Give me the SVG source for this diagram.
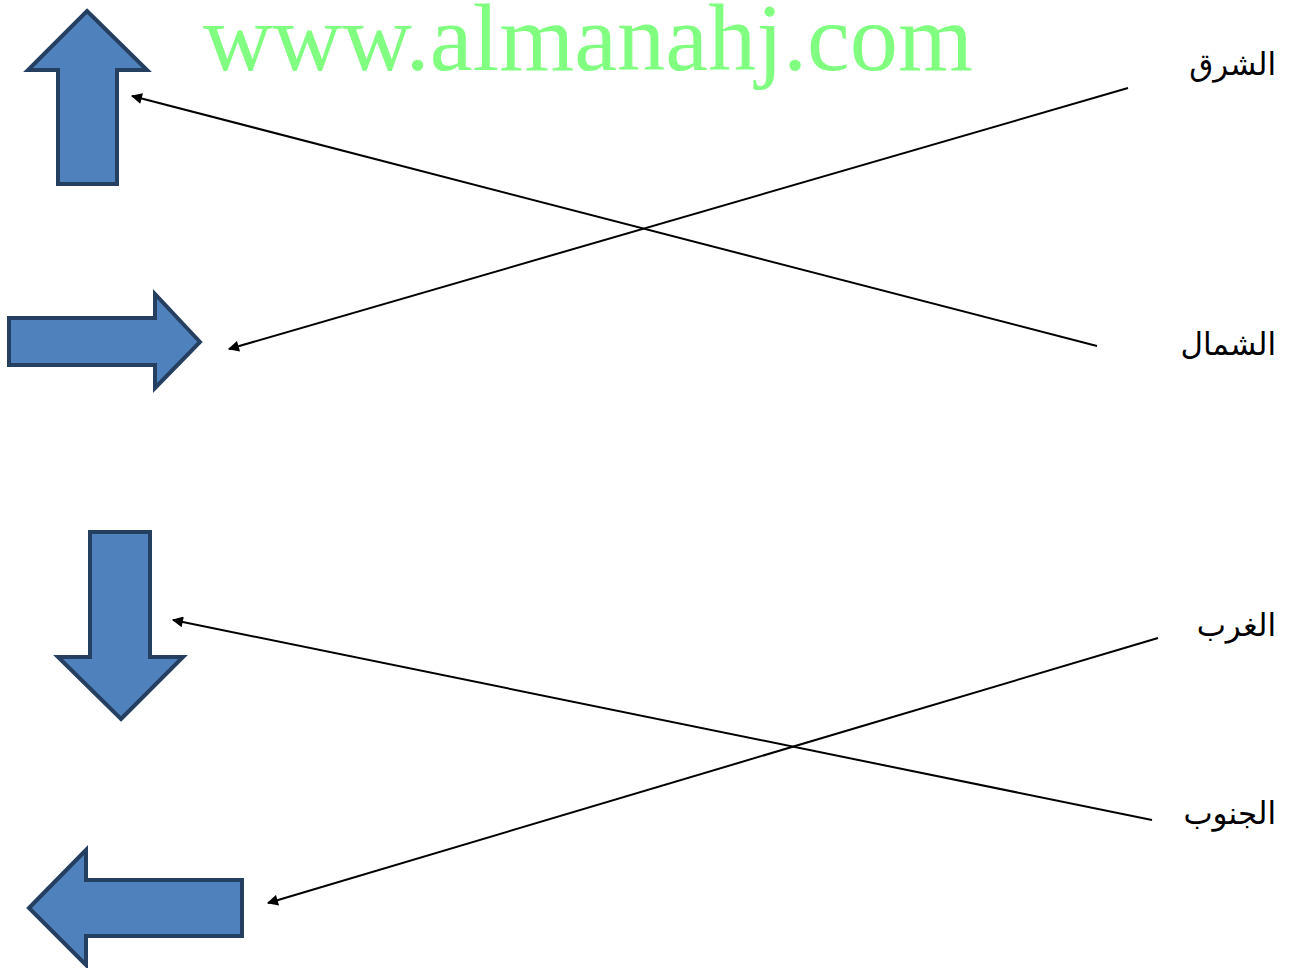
<svg xmlns="http://www.w3.org/2000/svg" width="1305" height="968" viewBox="0 0 1305 968">
<defs>
<style>
.shape{fill:#4f81bd;stroke:#243f60;stroke-width:4;stroke-linejoin:miter}
.conn{stroke:#000;stroke-width:2;fill:none;marker-end:url(#ah)}
.lbl{font-family:"DejaVu Sans","Noto Sans",sans-serif;font-size:31px;fill:#000;text-anchor:end}
.wm{font-family:"Liberation Serif",serif;font-size:96px;fill:#80ff80}
</style>
<marker id="ah" viewBox="0 0 10 10" refX="9" refY="5" markerWidth="13" markerHeight="11" markerUnits="userSpaceOnUse" orient="auto">
<path d="M0,0 L10,5 L0,10 z" fill="#000"/>
</marker>
</defs>
<rect width="1305" height="968" fill="#fff"/>
<text class="wm" x="203" y="70" textLength="770" lengthAdjust="spacingAndGlyphs">www.almanahj.com</text>
<g id="arrow-up"><path class="shape" d="M87,11 L147,70 L117,70 L117,184 L58,184 L58,70 L28,70 Z"/></g>
<g id="arrow-right"><path class="shape" d="M200,342 L155,294 L155,318 L9,318 L9,365 L155,365 L155,388 Z"/></g>
<g id="arrow-down"><path class="shape" d="M121,719 L183,657 L150,657 L150,532 L90,532 L90,657 L58,657 Z"/></g>
<g id="arrow-left"><path class="shape" d="M29,908 L86,850 L86,880 L242,880 L242,936 L86,936 L86,965 Z"/></g>
<g id="label-east"><text class="lbl" x="1276" y="75">الشرق</text></g>
<g id="label-north"><text class="lbl" x="1276" y="355">الشمال</text></g>
<g id="label-west"><text class="lbl" x="1276" y="636">الغرب</text></g>
<g id="label-south"><text class="lbl" x="1276" y="824">الجنوب</text></g>
<g id="connectors">
<line class="conn" x1="1097" y1="346" x2="132" y2="96"/>
<line class="conn" x1="1128" y1="88" x2="229" y2="349"/>
<line class="conn" x1="1152" y1="820" x2="173" y2="620"/>
<line class="conn" x1="1158" y1="638" x2="268" y2="903"/>
</g>
</svg>
